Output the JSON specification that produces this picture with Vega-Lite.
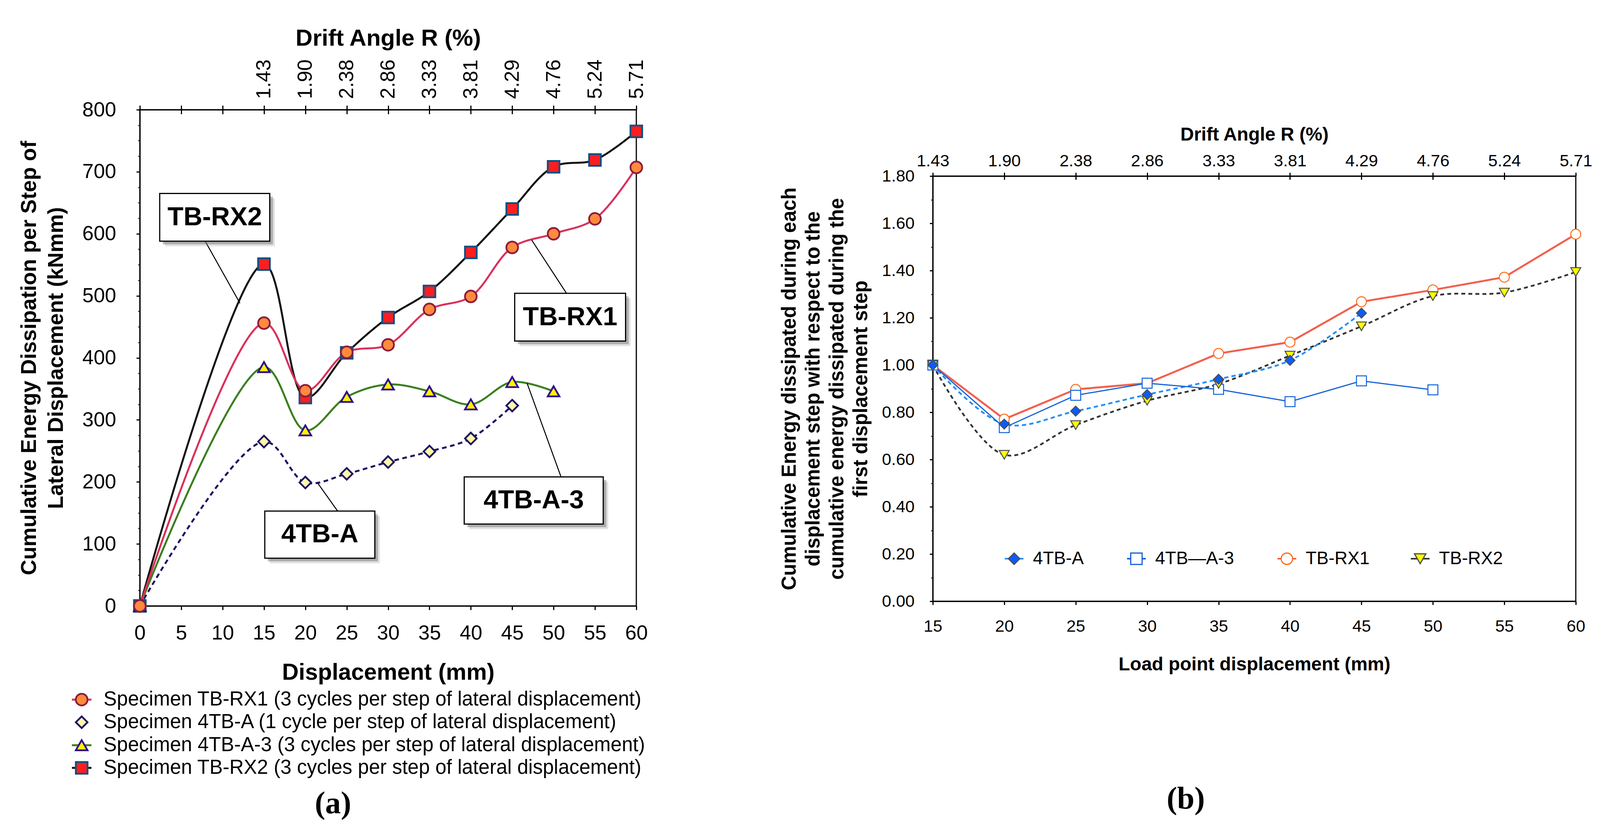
{
  "$schema": "https://vega.github.io/schema/vega-lite/v6.json",
  "description": "Cumulative energy dissipation per step (a) and normalised cumulative energy (b)",
  "padding": {"left": 45, "top": 67, "right": 0, "bottom": 0},
  "config": {
    "font": "Liberation Sans",
    "view": {"stroke": null},
    "axis": {
      "grid": false, "domainColor": "#000", "domainWidth": 3, "tickColor": "#000", "tickWidth": 3,
      "labelColor": "#000", "titleColor": "#000", "labelFont": "Liberation Sans", "titleFont": "Liberation Sans",
      "labelFlush": false, "labelOverlap": false
    }
  },
  "datasets": {
    "energyA": [
      {"specimen": "TB-RX2", "displacement": 0, "energy": 0},
      {"specimen": "TB-RX2", "displacement": 15, "energy": 551},
      {"specimen": "TB-RX2", "displacement": 20, "energy": 336},
      {"specimen": "TB-RX2", "displacement": 25, "energy": 408},
      {"specimen": "TB-RX2", "displacement": 30, "energy": 465},
      {"specimen": "TB-RX2", "displacement": 35, "energy": 507},
      {"specimen": "TB-RX2", "displacement": 40, "energy": 570},
      {"specimen": "TB-RX2", "displacement": 45, "energy": 640},
      {"specimen": "TB-RX2", "displacement": 50, "energy": 708},
      {"specimen": "TB-RX2", "displacement": 55, "energy": 719},
      {"specimen": "TB-RX2", "displacement": 60, "energy": 765},
      {"specimen": "4TB-A", "displacement": 0, "energy": 0},
      {"specimen": "4TB-A", "displacement": 15, "energy": 265},
      {"specimen": "4TB-A", "displacement": 20, "energy": 199},
      {"specimen": "4TB-A", "displacement": 25, "energy": 213},
      {"specimen": "4TB-A", "displacement": 30, "energy": 232},
      {"specimen": "4TB-A", "displacement": 35, "energy": 249},
      {"specimen": "4TB-A", "displacement": 40, "energy": 270},
      {"specimen": "4TB-A", "displacement": 45, "energy": 323},
      {"specimen": "4TB-A-3", "displacement": 0, "energy": 0},
      {"specimen": "4TB-A-3", "displacement": 15, "energy": 385},
      {"specimen": "4TB-A-3", "displacement": 20, "energy": 283},
      {"specimen": "4TB-A-3", "displacement": 25, "energy": 337},
      {"specimen": "4TB-A-3", "displacement": 30, "energy": 357},
      {"specimen": "4TB-A-3", "displacement": 35, "energy": 346},
      {"specimen": "4TB-A-3", "displacement": 40, "energy": 325},
      {"specimen": "4TB-A-3", "displacement": 45, "energy": 361},
      {"specimen": "4TB-A-3", "displacement": 50, "energy": 346},
      {"specimen": "TB-RX1", "displacement": 0, "energy": 0},
      {"specimen": "TB-RX1", "displacement": 15, "energy": 456},
      {"specimen": "TB-RX1", "displacement": 20, "energy": 347},
      {"specimen": "TB-RX1", "displacement": 25, "energy": 409},
      {"specimen": "TB-RX1", "displacement": 30, "energy": 421},
      {"specimen": "TB-RX1", "displacement": 35, "energy": 478},
      {"specimen": "TB-RX1", "displacement": 40, "energy": 499},
      {"specimen": "TB-RX1", "displacement": 45, "energy": 578},
      {"specimen": "TB-RX1", "displacement": 50, "energy": 600},
      {"specimen": "TB-RX1", "displacement": 55, "energy": 624},
      {"specimen": "TB-RX1", "displacement": 60, "energy": 707}
    ],
    "legendA": [
      {"specimen": "TB-RX1", "label": "Specimen TB-RX1 (3 cycles per step of lateral displacement)", "row": -151},
      {"specimen": "4TB-A", "label": "Specimen 4TB-A (1 cycle per step of lateral displacement)", "row": -187.5},
      {"specimen": "4TB-A-3", "label": "Specimen 4TB-A-3 (3 cycles per step of lateral displacement)", "row": -224.5},
      {"specimen": "TB-RX2", "label": "Specimen TB-RX2 (3 cycles per step of lateral displacement)", "row": -261}
    ],
    "boxesA": [
      {"label": "TB-RX2", "x1": 2.4, "x2": 15.7, "y1": 588, "y2": 665, "tx": 9.05, "ty": 626},
      {"label": "TB-RX1", "x1": 45.3, "x2": 58.7, "y1": 427, "y2": 504, "tx": 52.0, "ty": 465},
      {"label": "4TB-A", "x1": 15.1, "x2": 28.4, "y1": 77, "y2": 153, "tx": 21.75, "ty": 115},
      {"label": "4TB-A-3", "x1": 39.2, "x2": 56.0, "y1": 132, "y2": 208, "tx": 47.6, "ty": 170}
    ],
    "leadersA": [
      {"x1": 7.9, "y1": 588, "x2": 12.1, "y2": 488},
      {"x1": 47.35, "y1": 590, "x2": 51.56, "y2": 504},
      {"x1": 21.5, "y1": 198, "x2": 23.9, "y2": 153},
      {"x1": 46.8, "y1": 359, "x2": 50.9, "y2": 208}
    ],
    "energyB": [
      {"series": "TB-RX1", "displacement": 15, "ratio": 1.0},
      {"series": "TB-RX1", "displacement": 20, "ratio": 0.771},
      {"series": "TB-RX1", "displacement": 25, "ratio": 0.897},
      {"series": "TB-RX1", "displacement": 30, "ratio": 0.923},
      {"series": "TB-RX1", "displacement": 35, "ratio": 1.049},
      {"series": "TB-RX1", "displacement": 40, "ratio": 1.097},
      {"series": "TB-RX1", "displacement": 45, "ratio": 1.268},
      {"series": "TB-RX1", "displacement": 50, "ratio": 1.318},
      {"series": "TB-RX1", "displacement": 55, "ratio": 1.372},
      {"series": "TB-RX1", "displacement": 60, "ratio": 1.554},
      {"series": "4TB-A-3", "displacement": 15, "ratio": 1.0},
      {"series": "4TB-A-3", "displacement": 20, "ratio": 0.735},
      {"series": "4TB-A-3", "displacement": 25, "ratio": 0.872},
      {"series": "4TB-A-3", "displacement": 30, "ratio": 0.923},
      {"series": "4TB-A-3", "displacement": 35, "ratio": 0.897},
      {"series": "4TB-A-3", "displacement": 40, "ratio": 0.845},
      {"series": "4TB-A-3", "displacement": 45, "ratio": 0.933},
      {"series": "4TB-A-3", "displacement": 50, "ratio": 0.895},
      {"series": "TB-RX2", "displacement": 15, "ratio": 1.0},
      {"series": "TB-RX2", "displacement": 20, "ratio": 0.62},
      {"series": "TB-RX2", "displacement": 25, "ratio": 0.746},
      {"series": "TB-RX2", "displacement": 30, "ratio": 0.849},
      {"series": "TB-RX2", "displacement": 35, "ratio": 0.92},
      {"series": "TB-RX2", "displacement": 40, "ratio": 1.04},
      {"series": "TB-RX2", "displacement": 45, "ratio": 1.164},
      {"series": "TB-RX2", "displacement": 50, "ratio": 1.292},
      {"series": "TB-RX2", "displacement": 55, "ratio": 1.307},
      {"series": "TB-RX2", "displacement": 60, "ratio": 1.394},
      {"series": "4TB-A", "displacement": 15, "ratio": 1.0},
      {"series": "4TB-A", "displacement": 20, "ratio": 0.75},
      {"series": "4TB-A", "displacement": 25, "ratio": 0.805},
      {"series": "4TB-A", "displacement": 30, "ratio": 0.875},
      {"series": "4TB-A", "displacement": 35, "ratio": 0.94},
      {"series": "4TB-A", "displacement": 40, "ratio": 1.02},
      {"series": "4TB-A", "displacement": 45, "ratio": 1.22}
    ],
    "legendB": [
      {"series": "4TB-A", "label": "4TB-A", "slot": 20.69},
      {"series": "4TB-A-3", "label": "4TB—A-3", "slot": 29.25},
      {"series": "TB-RX1", "label": "TB-RX1", "slot": 39.78},
      {"series": "TB-RX2", "label": "TB-RX2", "slot": 49.11}
    ]
  },
  "spacing": 333,
  "resolve": {
    "scale": {"color": "independent", "fill": "independent", "stroke": "independent", "shape": "independent", "strokeDash": "independent"}
  },
  "hconcat": [
    {
      "width": 1271,
      "height": 1271,
      "view": {"stroke": "#000", "strokeWidth": 3},
      "title": {"text": "(a)", "orient": "bottom", "anchor": "middle", "frame": "bounds", "font": "Liberation Serif", "fontSize": 80, "fontWeight": "bold", "color": "#000", "offset": 28},
      "layer": [
        {
          "data": {"name": "energyA"},
          "mark": {"type": "line", "interpolate": "catmull-rom", "strokeWidth": 5},
          "encoding": {
            "x": {"field": "displacement", "type": "quantitative", "scale": {"domain": [0, 60], "nice": false},
              "axis": {"orient": "bottom", "values": [0, 5, 10, 15, 20, 25, 30, 35, 40, 45, 50, 55, 60], "format": "d",
                "labelFontSize": 52, "labelPadding": 34, "tickSize": 10,
                "title": "Displacement (mm)", "titleFontSize": 59, "titleFontWeight": "bold", "titlePadding": 46}},
            "y": {"field": "energy", "type": "quantitative", "scale": {"domain": [0, 800], "nice": false},
              "axis": {"orient": "left", "values": [0, 100, 200, 300, 400, 500, 600, 700, 800], "format": "d",
                "labelFontSize": 52, "labelPadding": 52, "tickSize": 9,
                "title": ["Cumulative Energy Dissipation per Step of", "Lateral Displacement (kNmm)"],
                "titleFontSize": 55, "titleFontWeight": "bold", "titleLineHeight": 69, "titlePadding": 38}},
            "color": {"field": "specimen", "type": "nominal",
              "scale": {"domain": ["TB-RX1", "4TB-A", "4TB-A-3", "TB-RX2"], "range": ["#D8315B", "#1B1464", "#3A7F1F", "#111111"]},
              "legend": null},
            "strokeDash": {"field": "specimen", "type": "nominal",
              "scale": {"domain": ["TB-RX1", "4TB-A", "4TB-A-3", "TB-RX2"], "range": [[1, 0], [12, 9], [1, 0], [1, 0]]},
              "legend": null}
          }
        },
        {
          "data": {"name": "energyA"},
          "mark": {"type": "point", "filled": true, "size": 900, "strokeWidth": 4.5, "opacity": 1},
          "encoding": {
            "x": {"field": "displacement", "type": "quantitative", "axis": null},
            "y": {"field": "energy", "type": "quantitative", "axis": null},
            "fill": {"field": "specimen", "type": "nominal",
              "scale": {"domain": ["TB-RX1", "4TB-A", "4TB-A-3", "TB-RX2"], "range": ["#FF8A3D", "#FFF8A6", "#FFF200", "#FF1E1E"]},
              "legend": null},
            "stroke": {"field": "specimen", "type": "nominal",
              "scale": {"domain": ["TB-RX1", "4TB-A", "4TB-A-3", "TB-RX2"], "range": ["#8C1C3C", "#1B1464", "#2D0E8C", "#0B4F86"]},
              "legend": null},
            "shape": {"field": "specimen", "type": "nominal",
              "scale": {"domain": ["TB-RX1", "4TB-A", "4TB-A-3", "TB-RX2"], "range": ["circle", "diamond", "triangle-up", "square"]},
              "legend": null}
          }
        },
        {
          "data": {"name": "legendA"},
          "transform": [{"filter": "datum.specimen != '4TB-A'"}],
          "mark": {"type": "rule", "strokeWidth": 5, "xOffset": -25, "x2Offset": 25},
          "encoding": {
            "x": {"datum": -7.03, "type": "quantitative", "axis": null},
            "x2": {"datum": -7.03},
            "y": {"field": "row", "type": "quantitative", "axis": null},
            "y2": {"field": "row"},
            "color": {"field": "specimen", "type": "nominal", "legend": null}
          }
        },
        {
          "data": {"name": "legendA"},
          "mark": {"type": "point", "filled": true, "size": 900, "strokeWidth": 4.5, "opacity": 1},
          "encoding": {
            "x": {"datum": -7.03, "type": "quantitative", "axis": null},
            "y": {"field": "row", "type": "quantitative", "axis": null},
            "fill": {"field": "specimen", "type": "nominal", "legend": null},
            "stroke": {"field": "specimen", "type": "nominal", "legend": null},
            "shape": {"field": "specimen", "type": "nominal", "legend": null}
          }
        },
        {
          "data": {"name": "legendA"},
          "mark": {"type": "text", "align": "left", "baseline": "middle", "dx": 56, "fontSize": 51, "color": "#000"},
          "encoding": {
            "x": {"datum": -7.03, "type": "quantitative", "axis": null},
            "y": {"field": "row", "type": "quantitative", "axis": null},
            "text": {"field": "label"}
          }
        },
        {
          "data": {"name": "leadersA"},
          "mark": {"type": "rule", "strokeWidth": 2.5, "color": "#000"},
          "encoding": {
            "x": {"field": "x1", "type": "quantitative", "axis": null},
            "y": {"field": "y1", "type": "quantitative", "axis": null},
            "x2": {"field": "x2"},
            "y2": {"field": "y2"}
          }
        },
        {
          "data": {"name": "boxesA"},
          "mark": {"type": "rect", "fill": "#8a8a8a", "opacity": 0.25, "xOffset": 13, "x2Offset": 13, "yOffset": 13, "y2Offset": 13},
          "encoding": {
            "x": {"field": "x1", "type": "quantitative", "axis": null},
            "x2": {"field": "x2"},
            "y": {"field": "y1", "type": "quantitative", "axis": null},
            "y2": {"field": "y2"}
          }
        },
        {
          "data": {"name": "boxesA"},
          "mark": {"type": "rect", "fill": "#6a6a6a", "opacity": 0.45, "xOffset": 8, "x2Offset": 8, "yOffset": 8, "y2Offset": 8},
          "encoding": {
            "x": {"field": "x1", "type": "quantitative", "axis": null},
            "x2": {"field": "x2"},
            "y": {"field": "y1", "type": "quantitative", "axis": null},
            "y2": {"field": "y2"}
          }
        },
        {
          "data": {"name": "boxesA"},
          "mark": {"type": "rect", "fill": "#FFFFFF", "stroke": "#000", "strokeWidth": 3},
          "encoding": {
            "x": {"field": "x1", "type": "quantitative", "axis": null},
            "x2": {"field": "x2"},
            "y": {"field": "y1", "type": "quantitative", "axis": null},
            "y2": {"field": "y2"}
          }
        },
        {
          "data": {"name": "boxesA"},
          "mark": {"type": "text", "fontSize": 67, "fontWeight": "bold", "align": "center", "baseline": "middle", "color": "#000"},
          "encoding": {
            "x": {"field": "tx", "type": "quantitative", "axis": null},
            "y": {"field": "ty", "type": "quantitative", "axis": null},
            "text": {"field": "label"}
          }
        },
        {
          "data": {"name": "energyA"},
          "mark": {"type": "point", "opacity": 0},
          "encoding": {
            "x": {"field": "displacement", "type": "quantitative",
              "axis": {"orient": "top", "values": [0, 5, 10, 15, 20, 25, 30, 35, 40, 45, 50, 55, 60],
                "labelExpr": "datum.value < 15 ? '' : ['1.43','1.90','2.38','2.86','3.33','3.81','4.29','4.76','5.24','5.71'][(datum.value - 15) / 5]",
                "labelAngle": 270, "labelAlign": "left", "labelBaseline": "middle", "labelFontSize": 52, "labelPadding": 17, "tickSize": 11,
                "title": "Drift Angle R (%)", "titleFontSize": 60, "titleFontWeight": "bold", "titlePadding": 22}},
            "y": {"field": "energy", "type": "quantitative",
              "axis": {"orient": "left", "values": [25, 50, 75, 125, 150, 175, 225, 250, 275, 325, 350, 375, 425, 450, 475, 525, 550, 575, 625, 650, 675, 725, 750, 775],
                "labels": false, "domain": false, "tickSize": 5, "tickWidth": 2, "title": null}}
          }
        },
        {
          "data": {"name": "energyA"},
          "mark": {"type": "point", "opacity": 0},
          "encoding": {
            "x": {"field": "displacement", "type": "quantitative",
              "axis": {"orient": "top", "values": [5, 10, 15, 20, 25, 30, 35, 40, 45, 50, 55],
                "labels": false, "domain": false, "tickSize": 11, "offset": -11, "title": null}},
            "y": {"field": "energy", "type": "quantitative", "axis": null}
          }
        }
      ],
      "resolve": {"axis": {"x": "independent", "y": "independent"}}
    },
    {
      "spacing": 0,
      "vconcat": [
        {
          "width": 1,
          "height": 38,
          "data": {"values": [{"note": ""}]},
          "mark": {"type": "text", "opacity": 0},
          "encoding": {"text": {"field": "note"}}
        },
        {
          "width": 1646,
          "height": 1089,
          "view": {"stroke": "#000", "strokeWidth": 3},
          "title": {"text": "(b)", "orient": "bottom", "anchor": "middle", "frame": "bounds", "font": "Liberation Serif", "fontSize": 80, "fontWeight": "bold", "color": "#000", "offset": 282},
          "layer": [
            {
              "data": {"name": "energyB"},
              "transform": [{"filter": "datum.series == '4TB-A' || datum.series == 'TB-RX2'"}],
              "mark": {"type": "line", "interpolate": "catmull-rom", "strokeWidth": 4.5},
              "encoding": {
                "x": {"field": "displacement", "type": "quantitative", "scale": {"domain": [15, 60], "nice": false, "zero": false},
                  "axis": {"orient": "bottom", "values": [15, 20, 25, 30, 35, 40, 45, 50, 55, 60], "format": "d",
                    "labelFontSize": 43, "labelPadding": 34, "tickSize": 9,
                    "title": "Load point displacement (mm)", "titleFontSize": 48, "titleFontWeight": "bold", "titlePadding": 52}},
                "y": {"field": "ratio", "type": "quantitative", "scale": {"domain": [0, 1.8], "nice": false},
                  "axis": {"orient": "left", "values": [0, 0.2, 0.4, 0.6, 0.8, 1.0, 1.2, 1.4, 1.6, 1.8], "format": ".2f",
                    "labelFontSize": 43, "labelPadding": 39, "tickSize": 8,
                    "title": ["Cumulative Energy dissipated during each", "displacement step with respect to the", "cumulative energy dissipated during the", "first displacement step"],
                    "titleFontSize": 51, "titleFontWeight": "bold", "titleLineHeight": 61, "titlePadding": 27}},
                "color": {"field": "series", "type": "nominal",
                  "scale": {"domain": ["4TB-A", "4TB-A-3", "TB-RX1", "TB-RX2"], "range": ["#1E8FFF", "#1262DB", "#F2604E", "#333333"]},
                  "legend": null},
                "strokeDash": {"field": "series", "type": "nominal",
                  "scale": {"domain": ["4TB-A", "TB-RX2"], "range": [[11, 8], [10, 8]]},
                  "legend": null}
              }
            },
            {
              "data": {"name": "energyB"},
              "transform": [{"filter": "datum.series == 'TB-RX1'"}],
              "mark": {"type": "line", "strokeWidth": 5},
              "encoding": {
                "x": {"field": "displacement", "type": "quantitative", "axis": null},
                "y": {"field": "ratio", "type": "quantitative", "axis": null},
                "color": {"field": "series", "type": "nominal", "legend": null}
              }
            },
            {
              "data": {"name": "energyB"},
              "transform": [{"filter": "datum.series == '4TB-A-3'"}],
              "mark": {"type": "line", "strokeWidth": 3},
              "encoding": {
                "x": {"field": "displacement", "type": "quantitative", "axis": null},
                "y": {"field": "ratio", "type": "quantitative", "axis": null},
                "color": {"field": "series", "type": "nominal", "legend": null}
              }
            },
            {
              "data": {"name": "energyB"},
              "mark": {"type": "point", "filled": true, "size": 650, "strokeWidth": 2.5, "opacity": 1},
              "encoding": {
                "x": {"field": "displacement", "type": "quantitative", "axis": null},
                "y": {"field": "ratio", "type": "quantitative", "axis": null},
                "fill": {"field": "series", "type": "nominal",
                  "scale": {"domain": ["4TB-A", "4TB-A-3", "TB-RX1", "TB-RX2"], "range": ["#0A5BFF", "#FFFFFF", "#FFFFFF", "#FFFF00"]},
                  "legend": null},
                "stroke": {"field": "series", "type": "nominal",
                  "scale": {"domain": ["4TB-A", "4TB-A-3", "TB-RX1", "TB-RX2"], "range": ["#4D4D4D", "#1262DB", "#FF6A13", "#4D4D4D"]},
                  "legend": null},
                "shape": {"field": "series", "type": "nominal",
                  "scale": {"domain": ["4TB-A", "4TB-A-3", "TB-RX1", "TB-RX2"], "range": ["diamond", "square", "circle", "triangle-down"]},
                  "legend": null}
              }
            },
            {
              "data": {"name": "legendB"},
              "mark": {"type": "rule", "strokeWidth": 4, "xOffset": -24, "x2Offset": 24},
              "encoding": {
                "x": {"field": "slot", "type": "quantitative", "axis": null},
                "x2": {"field": "slot"},
                "y": {"datum": 0.18, "type": "quantitative", "axis": null},
                "y2": {"datum": 0.18},
                "color": {"field": "series", "type": "nominal", "legend": null}
              }
            },
            {
              "data": {"name": "legendB"},
              "mark": {"type": "point", "filled": true, "size": 850, "strokeWidth": 3, "opacity": 1},
              "encoding": {
                "x": {"field": "slot", "type": "quantitative", "axis": null},
                "y": {"datum": 0.18, "type": "quantitative", "axis": null},
                "fill": {"field": "series", "type": "nominal", "legend": null},
                "stroke": {"field": "series", "type": "nominal", "legend": null},
                "shape": {"field": "series", "type": "nominal", "legend": null}
              }
            },
            {
              "data": {"name": "legendB"},
              "mark": {"type": "text", "align": "left", "baseline": "middle", "dx": 48, "fontSize": 46, "color": "#000"},
              "encoding": {
                "x": {"field": "slot", "type": "quantitative", "axis": null},
                "y": {"datum": 0.18, "type": "quantitative", "axis": null},
                "text": {"field": "label"}
              }
            },
            {
              "data": {"name": "energyB"},
              "mark": {"type": "point", "opacity": 0},
              "encoding": {
                "x": {"field": "displacement", "type": "quantitative",
                  "axis": {"orient": "top", "values": [15, 20, 25, 30, 35, 40, 45, 50, 55, 60],
                    "labelExpr": "['1.43','1.90','2.38','2.86','3.33','3.81','4.29','4.76','5.24','5.71'][(datum.value - 15) / 5]",
                    "labelFontSize": 43, "labelPadding": 8, "tickSize": 9,
                    "title": "Drift Angle R (%)", "titleFontSize": 48, "titleFontWeight": "bold", "titlePadding": 22}},
                "y": {"field": "ratio", "type": "quantitative",
                  "axis": {"orient": "left", "values": [0.1, 0.3, 0.5, 0.7, 0.9, 1.1, 1.3, 1.5, 1.7],
                    "labels": false, "domain": false, "tickSize": 5, "tickWidth": 2, "title": null}}
              }
            },
            {
              "data": {"name": "energyB"},
              "mark": {"type": "point", "opacity": 0},
              "encoding": {
                "x": {"field": "displacement", "type": "quantitative",
                  "axis": {"orient": "top", "values": [20, 25, 30, 35, 40, 45, 50, 55],
                    "labels": false, "domain": false, "tickSize": 9, "offset": -9, "title": null}},
                "y": {"field": "ratio", "type": "quantitative", "axis": null}
              }
            }
          ],
          "resolve": {"axis": {"x": "independent", "y": "independent"}}
        }
      ]
    }
  ]
}
